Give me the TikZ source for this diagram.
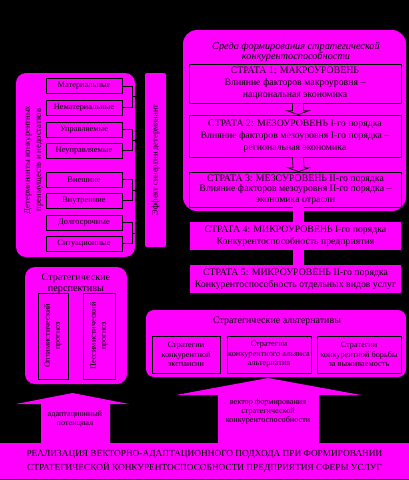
\documentclass[tikz,border=0pt]{standalone}
\usepackage{fontspec}
\setmainfont{Liberation Serif}
\usetikzlibrary{calc}
\definecolor{M}{HTML}{FF00FF}
\tikzset{
  magbox/.style={fill=M, draw=none, inner sep=0pt, align=center},
  framed/.style={fill=M, draw=black, line width=0.7pt, inner sep=0pt, align=center},
  strata/.style={framed, minimum width=212pt, font=\fontsize{9.8}{12}\selectfont},
  strataf/.style={magbox, minimum width=211pt, minimum height=28pt, font=\fontsize{9.8}{12}\selectfont},
  item/.style={framed, minimum width=76pt, minimum height=15pt, font=\fontsize{8.4}{9}\selectfont},
  altbox/.style={framed, minimum height=37pt, font=\fontsize{8.3}{9.6}\selectfont},
  bracket/.style={draw=black, line width=0.6pt},
  hollow/.style={fill=M, draw=black, line width=0.7pt},
  plain/.style={inner sep=0pt, align=center, text=black},
}
\begin{document}
\begin{tikzpicture}[x=1pt, y=-1pt]
\fill[black] (0,0) rectangle (409,480);
\useasboundingbox (0,0) rectangle (409,480);

% environment block
\node[magbox, rounded corners=14pt, minimum width=223pt, minimum height=181pt] (env) at (294.5,120.5) {};
\node[plain, font=\fontsize{10.3}{10.5}\selectfont\itshape] (envt) at (296,52) {Среда формирования стратегической\\конкурентоспособности};
\node[strata, minimum height=39pt] (s1) at (295,83.5) {СТРАТА 1: МАКРОУРОВЕНЬ\\Влияние факторов макроуровня –\\национальная экономика};
\node[strata, minimum height=42pt] (s2) at (295,136) {СТРАТА 2: МЕЗОУРОВЕНЬ I-го порядка\\Влияние факторов мезоуровня I-го порядка –\\региональная экономика};
\node[strata, minimum height=35pt, font=\fontsize{9.8}{10.5}\selectfont] (s3) at (295.5,189.5) {СТРАТА 3: МЕЗОУРОВЕНЬ II-го порядка\\Влияние факторов мезоуровня II-го порядка –\\экономика отрасли};
\node[strataf] (s4) at (295.5,236) {СТРАТА 4: МИКРОУРОВЕНЬ I-го порядка\\Конкурентоспособность предприятия};
\node[strataf] (s5) at (295.5,279) {СТРАТА 5: МИКРОУРОВЕНЬ II-го порядка\\Конкурентоспособность отдельных видов услуг};

% hollow arrows
\foreach \a/\b in {s1/s2, s2/s3}{
  \path ([xshift=3pt]\a.south) coordinate (top) ([xshift=3pt]\b.north) coordinate (tip);
  \draw[hollow] ($(top)+(-5.5,0)$) -- ($(tip)+(-5.5,-4)$) -- ($(tip)+(-11,-4)$) -- (tip)
     -- ($(tip)+(11,-4)$) -- ($(tip)+(5.5,-4)$) -- ($(top)+(5.5,0)$);
}
% filled connectors
\fill[M] ([xshift=-2.5pt]s3.south) rectangle ([xshift=8.5pt]s4.north);
\fill[M] ([xshift=-2.5pt]s4.south) rectangle ([xshift=8.5pt]s5.north);

% determinants block
\node[magbox, rounded corners=10pt, minimum width=119pt, minimum height=184pt] (det) at (75.5,165) {};
\node[plain, rotate=90, font=\fontsize{8.6}{11}\selectfont] (dett) at (33.5,160) {Детерминанты конкурентных\\преимуществ и недостатков};
\node[item] (i1) at (84,86) {Материальные};
\node[item] (i2) at (84,107.5) {Нематериальные};
\node[item] (i3) at (84,129.5) {Управляемые};
\node[item] (i4) at (84,150.5) {Неуправляемые};
\node[item] (i5) at (84,179.5) {Внешние};
\node[item] (i6) at (84,200.5) {Внутренние};
\node[item] (i7) at (84,222.5) {Долгосрочные};
\node[item] (i8) at (84,243.5) {Ситуационные};
\foreach \a/\b in {i1/i2, i3/i4, i5/i6, i7/i8}{
  \draw[bracket] (\a.east) -| ($(\a.east)!0.5!(\b.east)+(10,0)$) |- (\b.east);
  \draw[bracket] ($(\a.east)!0.5!(\b.east)+(10,0)$) -- ++(3.5,0);
}

% vertical bar
\node[magbox, rounded corners=2pt, minimum width=21pt, minimum height=174pt] (bar) at (155.5,160) {};
\node[plain, rotate=90, font=\fontsize{8.4}{9}\selectfont] (bart) at (bar.center) {Эффект синергии детерминант};

% perspectives
\node[magbox, rounded corners=10pt, minimum width=102pt, minimum height=117pt] (per) at (76,325.5) {};
\node[plain, font=\fontsize{10.2}{11}\selectfont] (pert) at (76,284) {Стратегические\\перспективы};
\node[framed, minimum width=30pt, minimum height=86pt] (p1) at (53,336) {};
\node[framed, minimum width=32pt, minimum height=86pt] (p2) at (99,336) {};
\node[plain, rotate=90, font=\fontsize{8.2}{10}\selectfont] (p1t) at (p1.center) {Оптимистический\\прогноз};
\node[plain, rotate=90, font=\fontsize{8.2}{10}\selectfont] (p2t) at (p2.center) {Пессимистический\\прогноз};

% alternatives
\node[magbox, rounded corners=8pt, minimum width=260pt, minimum height=67pt] (alt) at (276,343.5) {};
\node[plain, font=\fontsize{10}{11}\selectfont] (altt) at (277,321) {Стратегические альтернативы};
\node[altbox, minimum width=68pt] (a1) at (186,354.5) {Стратегии\\конкурентной\\экспансии};
\node[altbox, minimum width=84pt] (a2) at (269,354.5) {Стратегии\\конкурентного альянса\\альтернатив};
\node[altbox, minimum width=84pt] (a3) at (359,354.5) {Стратегии\\конкурентной борьбы\\за выживаемость};

% bottom block
\node[magbox, minimum width=409pt, minimum height=36pt, font=\fontsize{9.3}{14}\selectfont] (base) at (204.5,461)
  {РЕАЛИЗАЦИЯ ВЕКТОРНО-АДАПТАЦИОННОГО ПОДХОДА ПРИ ФОРМИРОВАНИИ\\СТРАТЕГИЧЕСКОЙ КОНКУРЕНТОСПОСОБНОСТИ ПРЕДПРИЯТИЯ СФЕРЫ УСЛУГ};

% big arrows
\fill[M] (41,443) -- (41,404) -- (16,404) -- (72.5,393) -- (129,404) -- (110,404) -- (110,443) -- cycle;
\fill[M] (218,443) -- (218,395) -- (176,395) -- (268,378) -- (361,395) -- (319,395) -- (319,443) -- cycle;
\node[plain, font=\fontsize{8.2}{8.5}\selectfont] (lat) at (75,419) {адаптационный\\потенциал};
\node[plain, font=\fontsize{8.2}{9}\selectfont] (rat) at (268,412) {вектор формирования\\стратегической\\конкурентоспособности};
\end{tikzpicture}
\end{document}
